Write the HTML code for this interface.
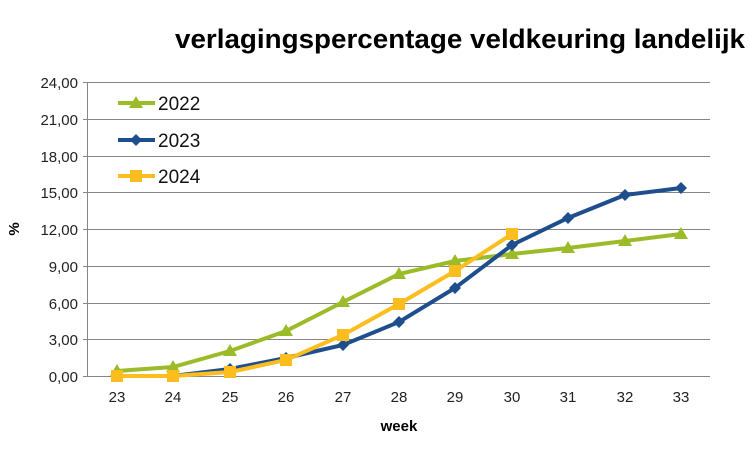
<!DOCTYPE html><html><head><style>body{margin:0;background:#fff}svg{display:block}text{font-family:"Liberation Sans",Arial,sans-serif}</style></head><body>
<svg width="750" height="452" xmlns="http://www.w3.org/2000/svg">
<text x="175" y="48" font-size="27" font-weight="bold" textLength="570" lengthAdjust="spacingAndGlyphs" fill="#000">verlagingspercentage veldkeuring landelijk</text>
<g stroke="#868686" stroke-width="1">
<line x1="87" y1="82.5" x2="710" y2="82.5"/><line x1="87" y1="119.5" x2="710" y2="119.5"/><line x1="87" y1="156.5" x2="710" y2="156.5"/><line x1="87" y1="192.5" x2="710" y2="192.5"/><line x1="87" y1="229.5" x2="710" y2="229.5"/><line x1="87" y1="266.5" x2="710" y2="266.5"/><line x1="87" y1="303.5" x2="710" y2="303.5"/><line x1="87" y1="339.5" x2="710" y2="339.5"/>
<line x1="83" y1="376.5" x2="710" y2="376.5"/><line x1="87.5" y1="82" x2="87.5" y2="376"/>
<line x1="83" y1="82.5" x2="87" y2="82.5"/><line x1="83" y1="119.5" x2="87" y2="119.5"/><line x1="83" y1="156.5" x2="87" y2="156.5"/><line x1="83" y1="192.5" x2="87" y2="192.5"/><line x1="83" y1="229.5" x2="87" y2="229.5"/><line x1="83" y1="266.5" x2="87" y2="266.5"/><line x1="83" y1="303.5" x2="87" y2="303.5"/><line x1="83" y1="339.5" x2="87" y2="339.5"/>
</g>
<g font-size="15" fill="#222" text-anchor="end">
<text x="78" y="88">24,00</text><text x="78" y="125">21,00</text><text x="78" y="162">18,00</text><text x="78" y="198">15,00</text><text x="78" y="235">12,00</text><text x="78" y="272">9,00</text><text x="78" y="309">6,00</text><text x="78" y="345">3,00</text><text x="78" y="382">0,00</text>
</g>
<g font-size="15" fill="#222" text-anchor="middle">
<text x="117" y="402">23</text><text x="173" y="402">24</text><text x="230" y="402">25</text><text x="286" y="402">26</text><text x="343" y="402">27</text><text x="399" y="402">28</text><text x="455" y="402">29</text><text x="512" y="402">30</text><text x="568" y="402">31</text><text x="625" y="402">32</text><text x="681" y="402">33</text>
</g>
<text x="399" y="431" font-size="15" font-weight="bold" text-anchor="middle">week</text>
<text transform="translate(19,229) rotate(-90)" font-size="15" font-weight="bold" text-anchor="middle">%</text>
<polyline fill="none" stroke="#9bbb29" stroke-width="4" points="117,371 173,367 230,351 286,331 343,302 399,274 455,261 512,254 568,248 625,241 681,234"/>
<g fill="#9bbb29"><path d="M117,364l7,12h-14z"/><path d="M173,360l7,12h-14z"/><path d="M230,344l7,12h-14z"/><path d="M286,324l7,12h-14z"/><path d="M343,295l7,12h-14z"/><path d="M399,267l7,12h-14z"/><path d="M455,254l7,12h-14z"/><path d="M512,247l7,12h-14z"/><path d="M568,241l7,12h-14z"/><path d="M625,234l7,12h-14z"/><path d="M681,227l7,12h-14z"/></g>
<polyline fill="none" stroke="#1f4e8c" stroke-width="4" points="117,376 173,376 230,369 286,358 343,345 399,322 455,288 512,245 568,218 625,195 681,188"/>
<g fill="#1f4e8c"><path d="M117,370l6,6-6,6-6-6z"/><path d="M173,370l6,6-6,6-6-6z"/><path d="M230,363l6,6-6,6-6-6z"/><path d="M286,352l6,6-6,6-6-6z"/><path d="M343,339l6,6-6,6-6-6z"/><path d="M399,316l6,6-6,6-6-6z"/><path d="M455,282l6,6-6,6-6-6z"/><path d="M512,239l6,6-6,6-6-6z"/><path d="M568,212l6,6-6,6-6-6z"/><path d="M625,189l6,6-6,6-6-6z"/><path d="M681,182l6,6-6,6-6-6z"/></g>
<polyline fill="none" stroke="#fbbe1e" stroke-width="4" points="117,376 173,376 230,372 286,360 343,335 399,304 455,271 512,234"/>
<g fill="#fbbe1e"><rect x="111" y="370" width="12" height="12"/><rect x="167" y="370" width="12" height="12"/><rect x="224" y="366" width="12" height="12"/><rect x="280" y="354" width="12" height="12"/><rect x="337" y="329" width="12" height="12"/><rect x="393" y="298" width="12" height="12"/><rect x="449" y="265" width="12" height="12"/><rect x="506" y="228" width="12" height="12"/></g>
<line x1="118" y1="103" x2="155" y2="103" stroke="#9bbb29" stroke-width="4"/><path d="M136,96l7,12h-14z" fill="#9bbb29"/>
<line x1="118" y1="140" x2="155" y2="140" stroke="#1f4e8c" stroke-width="4"/><path d="M136,134l6,6-6,6-6-6z" fill="#1f4e8c"/>
<line x1="118" y1="176" x2="155" y2="176" stroke="#fbbe1e" stroke-width="4"/><rect x="130" y="170" width="12" height="12" fill="#fbbe1e"/>
<g font-size="19" fill="#111"><text x="158" y="110">2022</text><text x="158" y="147">2023</text><text x="158" y="183">2024</text></g>
</svg></body></html>
